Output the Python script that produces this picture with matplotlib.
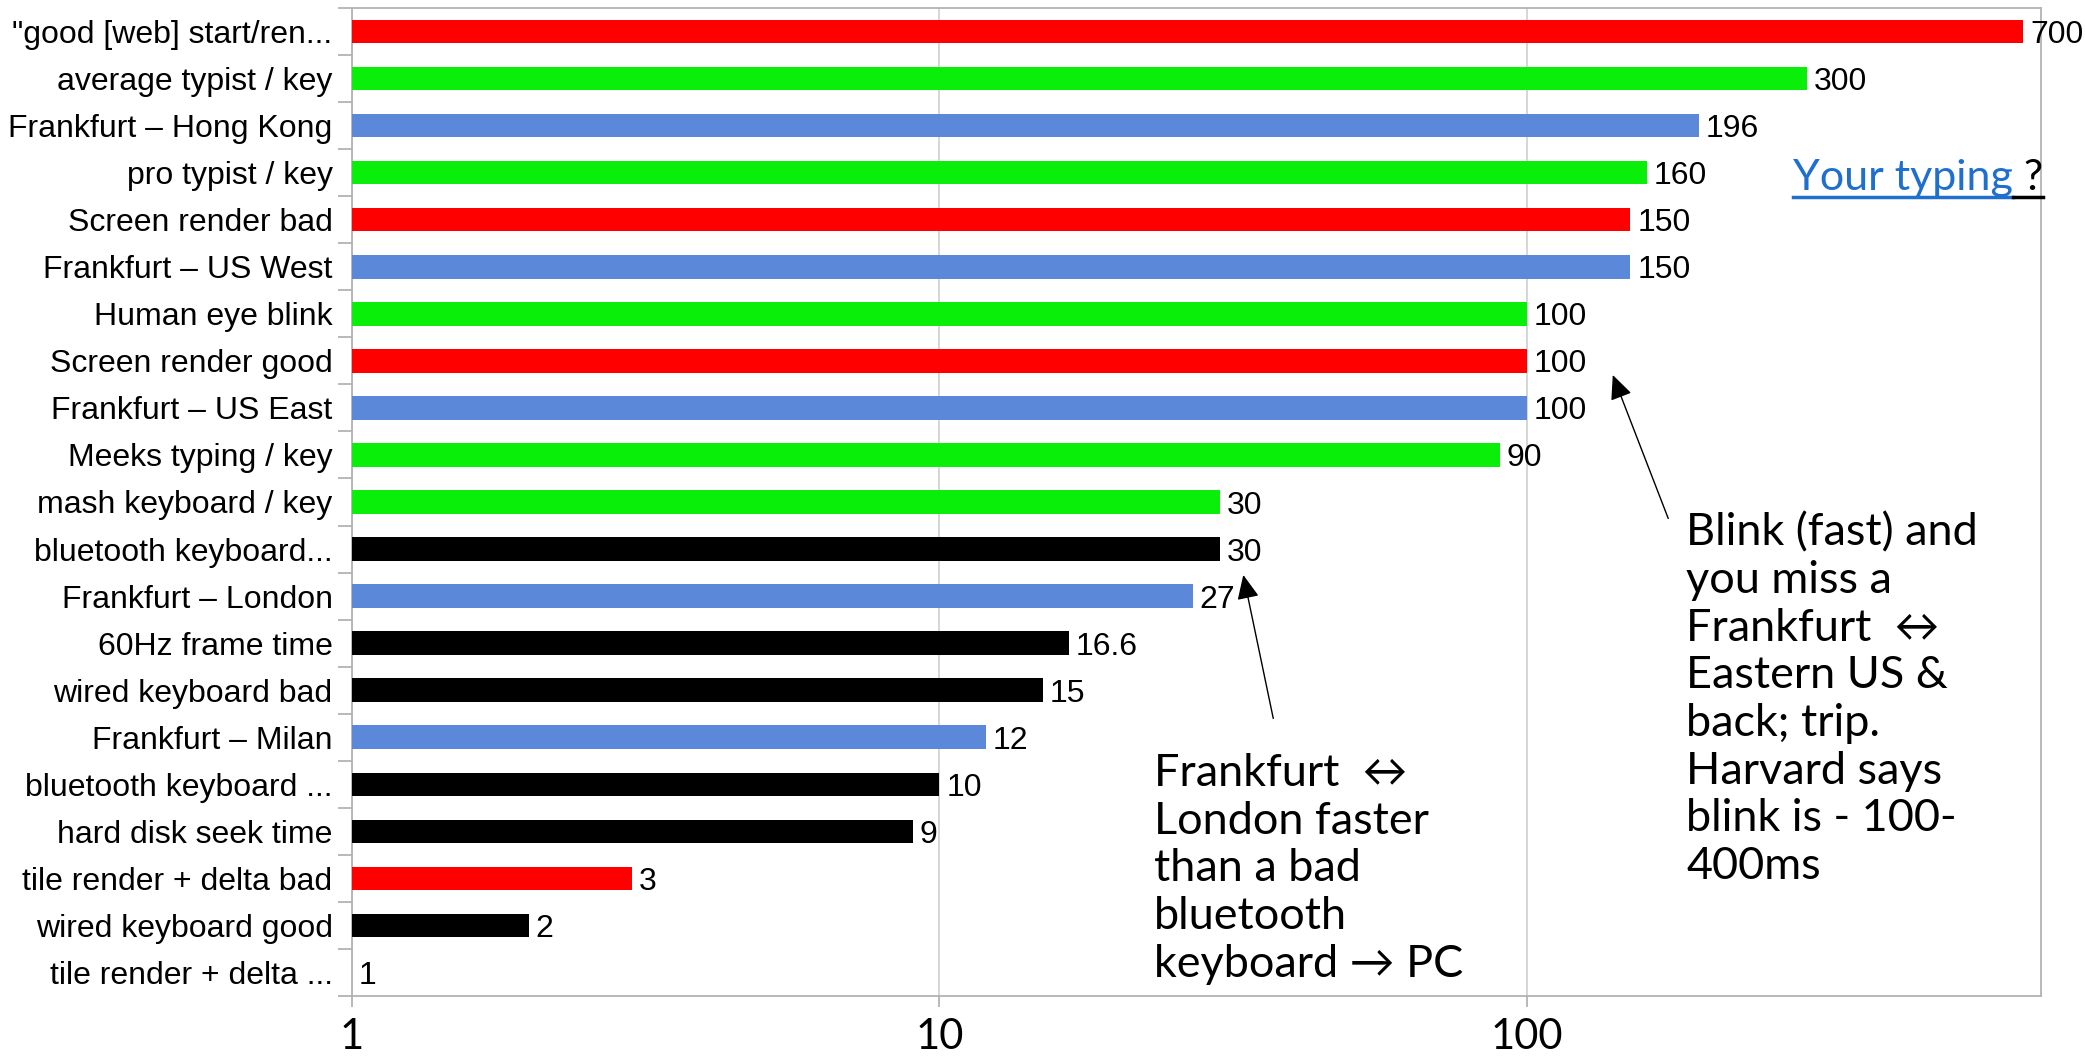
import matplotlib
matplotlib.use("Agg")
import matplotlib.pyplot as plt
import numpy as np
from matplotlib.ticker import FixedLocator, NullLocator

categories = [
    '"good [web] start/ren...',
    "average typist / key",
    "Frankfurt – Hong Kong",
    "pro typist / key",
    "Screen render bad",
    "Frankfurt – US West",
    "Human eye blink",
    "Screen render good",
    "Frankfurt – US East",
    "Meeks typing / key",
    "mash keyboard / key",
    "bluetooth keyboard...",
    "Frankfurt – London",
    "60Hz frame time",
    "wired keyboard bad",
    "Frankfurt – Milan",
    "bluetooth keyboard ...",
    "hard disk seek time",
    "tile render + delta bad",
    "wired keyboard good",
    "tile render + delta ...",
]
values = [700, 300, 196, 160, 150, 150, 100, 100, 100, 90, 30, 30, 27, 16.6, 15, 12, 10, 9, 3, 2, 1]
groups = ["render", "typing", "network", "typing", "render", "network", "typing", "render",
          "network", "typing", "typing", "device", "network", "device", "device", "network",
          "device", "device", "render", "device", "render"]
group_colors = {"render": "#ff0000", "typing": "#0aef0a", "network": "#5b88d8", "device": "#000000"}
x_ticks = [1, 10, 100]
x_tick_labels = ["1", "10", "100"]

LABEL_FONT = ["Liberation Sans", "DejaVu Sans"]
NOTE_FONT = ["Lato", "DejaVu Sans"]
GRAY = "#b3b3b3"

fig = plt.figure(figsize=(20.85, 10.56), dpi=100)
ax = fig.add_axes([352 / 2085, 1 - 996 / 1056, (2041 - 352) / 2085, (996 - 8) / 1056])

ypos = np.arange(len(categories))
vals = np.array(values, dtype=float)
ax.set_xscale("log")
ax.barh(ypos, vals - 1, left=1, height=0.5,
        color=[group_colors[g] for g in groups], zorder=3)
ax.set_xlim(1, 750)
ax.set_ylim(len(categories) - 0.5, -0.5)

for y, v in zip(ypos, vals):
    ax.annotate(f"{v:g}", xy=(v, y), xytext=(5, 0), textcoords="offset points",
                va="center_baseline", ha="left", fontsize=23, family=LABEL_FONT, zorder=4)

# axes styling
for s in ax.spines.values():
    s.set_color(GRAY)
    s.set_linewidth(1.3)
ax.xaxis.set_major_locator(FixedLocator(x_ticks))
ax.xaxis.set_minor_locator(NullLocator())
ax.set_xticklabels(x_tick_labels, family=NOTE_FONT, fontsize=30)
ax.tick_params(axis="x", which="major", length=8, color=GRAY, width=1.3, pad=8)
ax.grid(axis="x", which="major", color="#d0d0d0", linewidth=1.2, zorder=0)
ax.set_axisbelow(True)

ax.set_yticks(ypos)
ax.set_yticklabels(categories, family=LABEL_FONT, fontsize=23)
ax.tick_params(axis="y", which="major", length=0, pad=14)
ax.yaxis.set_minor_locator(FixedLocator(np.arange(-0.5, len(categories), 1.0)))
ax.tick_params(axis="y", which="minor", length=10, color=GRAY, width=1.3)

# annotations
ax.annotate("", xy=(140, 7.3), xytext=(174, 10.35),
            arrowprops=dict(arrowstyle="-|>,head_length=0.75,head_width=0.34",
                            mutation_scale=20, color="black", lw=1, shrinkA=0, shrinkB=0),
            zorder=5)
ax.annotate("", xy=(32.9, 11.55), xytext=(37, 14.6),
            arrowprops=dict(arrowstyle="-|>,head_length=0.75,head_width=0.34",
                            mutation_scale=20, color="black", lw=1, shrinkA=0, shrinkB=0),
            zorder=5)

right_note = ("Blink (fast) and\nyou miss a\nFrankfurt  ↔\nEastern US &\nback; trip.\n"
              "Harvard says\nblink is - 100-\n400ms")
left_note = "Frankfurt  ↔\nLondon faster\nthan a bad\nbluetooth\nkeyboard → PC"
ax.text(186.6, 14.2, right_note, family=NOTE_FONT, fontsize=32.4, va="center", ha="left",
        linespacing=1.2, zorder=5)
ax.text(23.2, 17.8, left_note, family=NOTE_FONT, fontsize=32.4, va="center", ha="left",
        linespacing=1.2, zorder=5)

# "Your typing ?" link-like text with underline
t1 = fig.text(1793 / 2085, 1 - 190 / 1056, "Your typing", family=NOTE_FONT, fontsize=31,
              color="#1f6fcf", va="baseline", ha="left")
fig.canvas.draw()
r = fig.canvas.get_renderer()
bb1 = t1.get_window_extent(r)
t2 = fig.text(bb1.x1 / 2085, 1 - 190 / 1056, " ?", family=NOTE_FONT, fontsize=31,
              color="black", va="baseline", ha="left")
fig.canvas.draw()
bb2 = t2.get_window_extent(r)
uy = 1 - 197 / 1056
fig.add_artist(plt.Line2D([bb1.x0 / 2085, bb1.x1 / 2085], [uy, uy], color="#1f6fcf", lw=2.5))
fig.add_artist(plt.Line2D([bb1.x1 / 2085, bb2.x1 / 2085], [uy, uy], color="black", lw=2.5))

fig.savefig("out.png", dpi=100, facecolor="white")
